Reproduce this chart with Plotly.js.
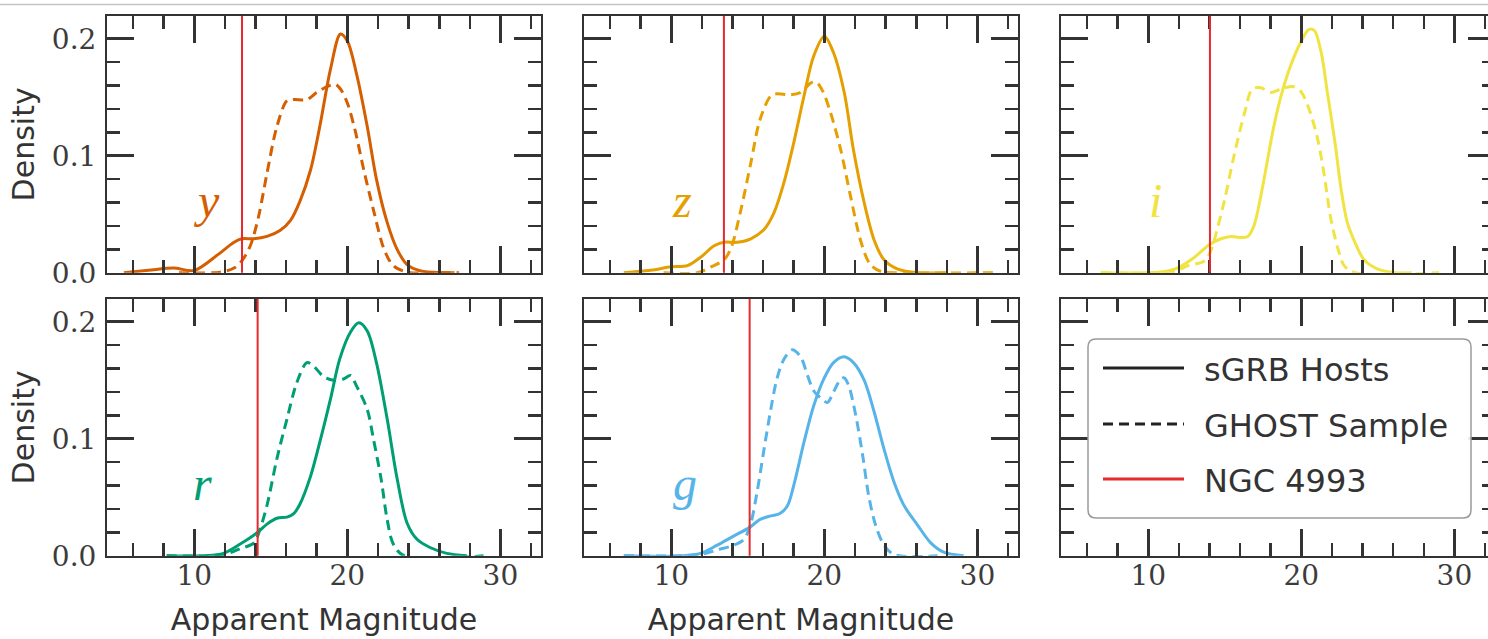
<!DOCTYPE html>
<html><head><meta charset="utf-8">
<script src="https://cdn.plot.ly/plotly-3.0.1.min.js"></script>
<style>html,body{margin:0;padding:0;overflow:hidden;background:#fff}#chart{width:1500px;height:639px}</style>
</head><body><div id="chart"></div>
<script>
// ---------------- data ----------------
const bands = ['y', 'z', 'i', 'r', 'g'];
const xTickLabels = ['10', '20', '30'];
const yTickLabels = ['0.0', '0.1', '0.2'];
const legendLabels = ['sGRB Hosts', 'GHOST Sample', 'NGC 4993'];
const ngcMag = [13.12, 13.44, 14.03, 14.14, 15.12];

const yHostMag = [5.4, 7, 8.65, 10, 11.5, 12.6, 13.1, 13.9, 14.75, 15.6, 16.3, 16.9, 17.6, 18.2, 18.9, 19.55, 20, 20.6, 21.3, 21.9, 22.6, 23.25, 23.9, 24.8, 26.1, 27];
const yHostDen = [0, 0.002, 0.004, 0.002, 0.015, 0.026, 0.029, 0.029, 0.031, 0.036, 0.045, 0.061, 0.088, 0.125, 0.174, 0.204, 0.198, 0.170, 0.125, 0.080, 0.043, 0.020, 0.007, 0.0015, 0, 0];
const yGhostMag = [9, 11.7, 12.6, 13.1, 13.66, 14.2, 14.75, 15.4, 16.06, 16.5, 17.36, 18.0, 18.67, 19.2, 19.55, 20, 20.5, 21.07, 21.7, 22.4, 23.0, 23.9, 25.5, 27.3];
const yGhostDen = [0, 0.0005, 0.004, 0.010, 0.023, 0.048, 0.085, 0.125, 0.147, 0.148, 0.148, 0.154, 0.159, 0.161, 0.157, 0.145, 0.122, 0.088, 0.054, 0.020, 0.006, 0.0005, 0, 0];

const zHostMag = [6.9, 8.65, 10, 11.05, 11.9, 12.8, 13.44, 14.3, 15.2, 16.06, 16.7, 17.36, 18.0, 18.67, 19.3, 20, 20.6, 21.3, 21.9, 22.6, 23.25, 23.9, 24.8, 26.1, 28];
const zHostDen = [0, 0.002, 0.005, 0.006, 0.013, 0.023, 0.026, 0.026, 0.029, 0.037, 0.051, 0.077, 0.111, 0.151, 0.185, 0.202, 0.188, 0.154, 0.105, 0.060, 0.028, 0.011, 0.003, 0, 0];
const zGhostMag = [9.5, 11.7, 12.6, 13.44, 13.9, 14.5, 15.2, 15.8, 16.5, 16.9, 17.8, 18.45, 19.1, 19.45, 19.9, 20.4, 21.07, 21.7, 22.4, 23.0, 23.7, 25, 31.3];
const zGhostDen = [0, 0, 0.005, 0.011, 0.021, 0.051, 0.094, 0.131, 0.151, 0.153, 0.152, 0.154, 0.162, 0.163, 0.155, 0.137, 0.105, 0.066, 0.026, 0.007, 0.001, 0, 0];

const iHostMag = [6.9, 10.8, 11.9, 13.0, 14.0, 14.75, 15.4, 16.06, 16.5, 16.9, 17.36, 17.8, 18.2, 18.67, 19.3, 19.96, 20.5, 20.85, 21.3, 21.7, 22.2, 22.6, 23.0, 23.5, 24.1, 25.0, 26.1, 27.2];
const iHostDen = [0, 0.0005, 0.004, 0.013, 0.024, 0.029, 0.031, 0.030, 0.031, 0.040, 0.066, 0.097, 0.125, 0.151, 0.177, 0.197, 0.208, 0.207, 0.188, 0.154, 0.111, 0.071, 0.043, 0.026, 0.011, 0.003, 0, 0];
const iGhostMag = [6.9, 11.7, 12.6, 13.66, 14.1, 14.5, 15.0, 15.6, 16.3, 16.8, 17.36, 18.0, 18.67, 19.5, 19.96, 20.5, 21.07, 21.5, 21.9, 22.4, 22.8, 23.5, 29];
const iGhostDen = [0, 0.001, 0.006, 0.010, 0.019, 0.037, 0.063, 0.100, 0.137, 0.157, 0.158, 0.154, 0.157, 0.159, 0.155, 0.140, 0.114, 0.083, 0.048, 0.020, 0.006, 0, 0];

const rHostMag = [8.2, 10.8, 11.9, 13.0, 14.14, 14.75, 15.4, 16.06, 16.5, 16.9, 17.6, 18.2, 18.9, 19.5, 20.2, 20.75, 21.3, 21.9, 22.6, 23.25, 23.9, 24.55, 25.4, 26.5, 27.8];
const rHostDen = [0, 0, 0.002, 0.010, 0.020, 0.027, 0.032, 0.033, 0.036, 0.044, 0.068, 0.097, 0.134, 0.168, 0.191, 0.199, 0.192, 0.165, 0.117, 0.066, 0.028, 0.014, 0.007, 0.002, 0];
const rGhostMag = [8.2, 11.9, 13.0, 13.9, 14.3, 14.75, 15.4, 16.06, 16.7, 17.36, 17.8, 18.45, 19.1, 19.75, 20.2, 20.6, 21.3, 21.7, 22.2, 22.6, 23.0, 23.7, 28.9];
const rGhostDen = [0, 0.001, 0.006, 0.011, 0.023, 0.043, 0.083, 0.117, 0.148, 0.165, 0.162, 0.153, 0.150, 0.151, 0.154, 0.145, 0.125, 0.100, 0.066, 0.031, 0.010, 0, 0];

const gHostMag = [6.9, 10.8, 11.9, 13.0, 14.1, 15.1, 15.8, 16.5, 17.1, 17.6, 18.0, 18.67, 19.3, 19.96, 20.6, 21.3, 21.9, 22.6, 23.25, 23.9, 24.55, 25.2, 26.1, 26.95, 27.8, 29.1];
const gHostDen = [0, 0, 0.002, 0.009, 0.017, 0.024, 0.031, 0.034, 0.036, 0.043, 0.060, 0.097, 0.128, 0.151, 0.165, 0.170, 0.165, 0.150, 0.123, 0.091, 0.063, 0.043, 0.026, 0.011, 0.003, 0];
const gGhostMag = [6.9, 11.9, 13.0, 14.1, 14.75, 15.2, 15.6, 16.06, 16.5, 16.9, 17.36, 17.9, 18.45, 18.9, 19.3, 19.75, 20.2, 20.6, 21.07, 21.3, 21.6, 22.05, 22.5, 22.9, 23.35, 23.9, 24.55, 27.4];
const gGhostDen = [0, 0.001, 0.005, 0.009, 0.014, 0.028, 0.054, 0.091, 0.125, 0.151, 0.168, 0.176, 0.170, 0.154, 0.141, 0.135, 0.131, 0.140, 0.151, 0.152, 0.145, 0.120, 0.086, 0.051, 0.026, 0.009, 0.001, 0];

// ---------------- styling / layout ----------------
const hostMag = [yHostMag, zHostMag, iHostMag, rHostMag, gHostMag];
const hostDen = [yHostDen, zHostDen, iHostDen, rHostDen, gHostDen];
const ghostMag = [yGhostMag, zGhostMag, iGhostMag, rGhostMag, gGhostMag];
const ghostDen = [yGhostDen, zGhostDen, iGhostDen, rGhostDen, gGhostDen];
const bandColors = ['#D55E00', '#E69F00', '#F0E442', '#009E73', '#56B4E9'];
const ngcColor = '#e62a2e';
const ink = '#333333';

const W = 1500, H = 639;
const colLeft = [107, 584, 1061], panelW = 434;
const rowTB = [[16, 272.7], [299, 555.7]];
const XR = [4.3, 32.65], YR = [0, 0.2194];
const X = px => px / W, Y = py => 1 - py / H;

const traces = [];
const layout = {
  width: W, height: H, margin: {l: 0, r: 0, t: 0, b: 0},
  paper_bgcolor: '#fff', plot_bgcolor: '#fff', showlegend: false,
  annotations: [], shapes: []
};

const serif = {family: 'DejaVu Serif, serif', size: 28, color: '#3c3c3c'};
const sans = 'DejaVu Sans, sans-serif';

for (let p = 0; p < 6; p++) {
  const n = p + 1, col = p % 3, row = Math.floor(p / 3);
  const xa = 'xaxis' + (n === 1 ? '' : n), ya = 'yaxis' + (n === 1 ? '' : n);
  const xr = 'x' + (n === 1 ? '' : n), yr = 'y' + (n === 1 ? '' : n);
  const common = {
    showline: true, linecolor: ink, linewidth: 2, mirror: 'allticks',
    ticks: 'inside', ticklen: 27, tickwidth: 2.6, tickcolor: ink,
    showgrid: false, zeroline: false, fixedrange: true, tickfont: serif
  };
  layout[xa] = Object.assign({}, common, {
    domain: [X(colLeft[col]), X(colLeft[col] + panelW)], range: XR, anchor: yr,
    tickmode: 'array', tickvals: xTickLabels.map(Number), ticktext: xTickLabels,
    showticklabels: row === 1, ticklabelstandoff: -6,
    minor: {ticks: 'inside', dtick: 2, tick0: 0, ticklen: 13, tickwidth: 2.6, tickcolor: ink},
    title: (row === 1 && col < 2) ? {text: 'Apparent Magnitude', font: {family: sans, size: 30, color: ink}, standoff: 18} : {text: ''}
  });
  layout[ya] = Object.assign({}, common, {
    domain: [Y(rowTB[row][1]), Y(rowTB[row][0])], range: YR, anchor: xr,
    tickmode: 'array', tickvals: yTickLabels.map(Number), ticktext: yTickLabels,
    showticklabels: col === 0, ticklabelstandoff: 3,
    minor: {ticks: 'inside', dtick: 0.02, tick0: 0, ticklen: 13, tickwidth: 2.6, tickcolor: ink},
    title: col === 0 ? {text: 'Density', font: {family: sans, size: 30, color: ink}, standoff: 8} : {text: ''}
  });

  if (p < 5) {
    traces.push({x: hostMag[p], y: hostDen[p], xaxis: xr, yaxis: yr, mode: 'lines', name: legendLabels[0],
      line: {color: bandColors[p], width: 3, shape: 'spline', smoothing: 0.9}, hoverinfo: 'skip'});
    traces.push({x: ghostMag[p], y: ghostDen[p], xaxis: xr, yaxis: yr, mode: 'lines', name: legendLabels[1],
      line: {color: bandColors[p], width: 3, dash: '10px,6px', shape: 'spline', smoothing: 0.9}, hoverinfo: 'skip'});
    layout.shapes.push({type: 'line', xref: xr, yref: yr + ' domain', x0: ngcMag[p], x1: ngcMag[p], y0: 0, y1: 1,
      line: {color: ngcColor, width: 2}, layer: 'above'});
    const labelX = [10.78, 10.72, 10.44, 10.57, 10.87];
    layout.annotations.push({xref: xr, yref: yr, x: labelX[p], y: 0.062, xanchor: 'center', yanchor: 'middle',
      text: '<i>' + bands[p] + '</i>', showarrow: false,
      font: {family: 'Liberation Serif, serif', size: 48, color: bandColors[p]}});
  } else {
    traces.push({x: [], y: [], xaxis: xr, yaxis: yr, mode: 'lines', hoverinfo: 'skip'});
  }
}

// legend (panel 6)
const lb = {x0: 1088, x1: 1471, y0: 339, y1: 518, r: 8};
const path = `M ${X(lb.x0 + lb.r)} ${Y(lb.y0)} L ${X(lb.x1 - lb.r)} ${Y(lb.y0)} Q ${X(lb.x1)} ${Y(lb.y0)} ${X(lb.x1)} ${Y(lb.y0 + lb.r)} ` +
  `L ${X(lb.x1)} ${Y(lb.y1 - lb.r)} Q ${X(lb.x1)} ${Y(lb.y1)} ${X(lb.x1 - lb.r)} ${Y(lb.y1)} ` +
  `L ${X(lb.x0 + lb.r)} ${Y(lb.y1)} Q ${X(lb.x0)} ${Y(lb.y1)} ${X(lb.x0)} ${Y(lb.y1 - lb.r)} ` +
  `L ${X(lb.x0)} ${Y(lb.y0 + lb.r)} Q ${X(lb.x0)} ${Y(lb.y0)} ${X(lb.x0 + lb.r)} ${Y(lb.y0)} Z`;
layout.shapes.push({type: 'path', xref: 'paper', yref: 'paper', path: path, fillcolor: 'rgba(255,255,255,0.9)',
  line: {color: '#9a9a9a', width: 1.5}, layer: 'above'});
const legRows = [368, 424, 479];
const legStyles = [{color: '#222', width: 3}, {color: '#222', width: 3, dash: '10px,6px'}, {color: ngcColor, width: 3}];
legRows.forEach((ry, k) => {
  layout.shapes.push({type: 'line', xref: 'paper', yref: 'paper', x0: X(1103), x1: X(1184), y0: Y(ry), y1: Y(ry),
    line: legStyles[k], layer: 'above'});
  layout.annotations.push({xref: 'paper', yref: 'paper', x: X(1202), y: Y(ry + 2), xanchor: 'left', yanchor: 'middle',
    text: legendLabels[k], showarrow: false, font: {family: sans, size: 32, color: ink}});
});

// thin grey rule at the top of the image
layout.shapes.push({type: 'line', xref: 'paper', yref: 'paper', x0: 0, x1: 1, y0: Y(4.5), y1: Y(4.5),
  line: {color: '#c4c4c4', width: 1.5}});

Plotly.newPlot('chart', traces, layout, {displayModeBar: false, staticPlot: true});
</script></body></html>
